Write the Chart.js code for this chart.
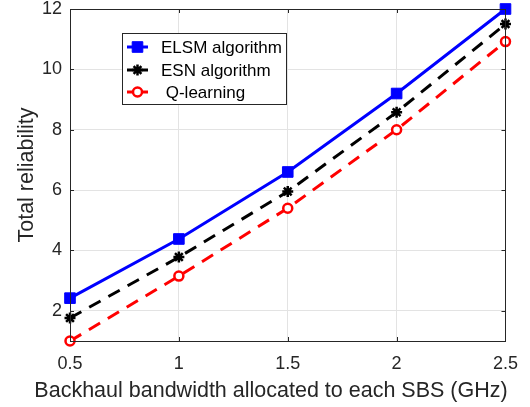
<!DOCTYPE html>
<html>
<head>
<meta charset="utf-8">
<script src="https://cdn.jsdelivr.net/npm/chart.js@4/dist/chart.umd.min.js"></script>
<style>
  body { margin: 0; background: #fff; }
  #wrap { width: 530px; height: 407px; }
</style>
</head>
<body>
<div id="wrap"><canvas id="grafica" width="530" height="407"></canvas></div>
<script>
// datos
const bandwidth = [0.5, 1, 1.5, 2, 2.5];
const elsm = [2.42, 4.38, 6.6, 9.2, 12.0];
const esn = [1.76, 3.78, 5.95, 8.58, 11.5];
const qlearn = [1.0, 3.15, 5.4, 8.0, 10.92];
const xTicks = [0.5, 1, 1.5, 2, 2.5];
const yTicks = [2, 4, 6, 8, 10, 12];
const seriesNames = ['ELSM algorithm', 'ESN algorithm', ' Q-learning'];

const axisColor = '#262626';
const font = 'Liberation Sans, Arial, sans-serif';

function puntos(ys) {
  return bandwidth.map((x, i) => ({ x: x, y: ys[i] }));
}

// caja, ticks hacia dentro y leyenda estilo MATLAB
const estiloMatlab = {
  id: 'estiloMatlab',
  afterDraw(chart) {
    const ctx = chart.ctx;
    const a = chart.chartArea;
    const xs = chart.scales.x, ys = chart.scales.y;
    ctx.save();
    ctx.strokeStyle = axisColor;
    ctx.lineWidth = 1;
    ctx.beginPath();
    xTicks.forEach(v => {
      const px = Math.round(xs.getPixelForValue(v)) + 0.5;
      ctx.moveTo(px, a.bottom); ctx.lineTo(px, a.bottom - 4);
      ctx.moveTo(px, a.top); ctx.lineTo(px, a.top + 4);
    });
    yTicks.forEach(v => {
      const py = Math.round(ys.getPixelForValue(v)) + 0.5;
      ctx.moveTo(a.left, py); ctx.lineTo(a.left + 4, py);
      ctx.moveTo(a.right, py); ctx.lineTo(a.right - 4, py);
    });
    ctx.stroke();
    ctx.strokeRect(Math.round(a.left) + 0.5, Math.round(a.top) + 0.5,
      Math.round(a.right - a.left), Math.round(a.bottom - a.top));

    // leyenda
    const bx = 122.5, by = 33.5, bw = 164, bh = 71;
    ctx.fillStyle = '#fff';
    ctx.fillRect(bx, by, bw, bh);
    ctx.strokeStyle = axisColor;
    ctx.strokeRect(bx, by, bw, bh);
    const filas = [47, 70, 92];
    ctx.font = '17px ' + font;
    ctx.textBaseline = 'middle';
    chart.data.datasets.forEach((ds, i) => {
      const y = filas[i];
      ctx.strokeStyle = ds.borderColor;
      ctx.lineWidth = 3;
      ctx.setLineDash([]);
      ctx.beginPath();
      ctx.moveTo(127, y); ctx.lineTo(148, y);
      ctx.stroke();
      ctx.fillStyle = ds.pointBackgroundColor;
      ctx.lineWidth = ds.pointBorderWidth;
      Chart.helpers.drawPoint(ctx, {
        pointStyle: ds.pointStyle,
        radius: ds.pointRadius,
        borderWidth: ds.pointBorderWidth,
        rotation: 0
      }, 137.5, y);
      ctx.fillStyle = '#000';
      ctx.fillText(seriesNames[i], 161, y + 1);
    });
    ctx.restore();
  }
};

const titulos = {
  id: 'titulos',
  afterDraw(chart) {
    const ctx = chart.ctx;
    ctx.save();
    ctx.fillStyle = axisColor;
    ctx.font = '21.5px ' + font;
    ctx.textAlign = 'center';
    ctx.textBaseline = 'alphabetic';
    ctx.fillText('Backhaul bandwidth allocated to each SBS (GHz)', 271, 397);
    ctx.translate(33, 175);
    ctx.rotate(-Math.PI / 2);
    ctx.fillText('Total reliability', 0, 0);
    ctx.restore();
  }
};

const ctxG = document.getElementById('grafica').getContext('2d');
const grafica = new Chart(ctxG, {
  type: 'line',
  data: {
    datasets: [{
      label: seriesNames[0],
      data: puntos(elsm),
      borderColor: '#0000ff',
      backgroundColor: '#0000ff',
      borderWidth: 3,
      pointStyle: 'rect',
      pointRadius: 7.5,
      pointBorderWidth: 1,
      pointBackgroundColor: '#0000ff',
      fill: false,
      clip: false
    }, {
      label: seriesNames[1],
      data: puntos(esn),
      borderColor: '#000000',
      backgroundColor: '#000000',
      borderWidth: 3,
      borderDash: [13, 9],
      pointStyle: 'star',
      pointRadius: 5.5,
      pointBorderWidth: 2.5,
      pointBackgroundColor: '#000000',
      fill: false,
      clip: false
    }, {
      label: seriesNames[2],
      data: puntos(qlearn),
      borderColor: '#ff0000',
      backgroundColor: '#ffffff',
      borderWidth: 3,
      borderDash: [13, 9],
      pointStyle: 'circle',
      pointRadius: 4.5,
      pointBorderWidth: 2.5,
      pointBackgroundColor: '#ffffff',
      fill: false,
      clip: false
    }]
  },
  options: {
    responsive: false,
    animation: false,
    layout: { padding: { top: 0, right: 21, left: 0, bottom: 0 } },
    plugins: {
      legend: { display: false },
      tooltip: { enabled: false }
    },
    scales: {
      x: {
        type: 'linear',
        min: 0.5,
        max: 2.5,
        afterBuildTicks: s => { s.ticks = xTicks.map(v => ({ value: v })); },
        afterFit: s => { s.height = 66; },
        grid: { color: '#e3e3e3', drawTicks: false },
        border: { display: false },
        ticks: {
          color: axisColor,
          padding: 12,
          maxRotation: 0,
          font: { family: font, size: 18 },
          callback: v => String(v)
        }
      },
      y: {
        type: 'linear',
        min: 1,
        max: 12,
        afterBuildTicks: s => { s.ticks = yTicks.map(v => ({ value: v })); },
        afterFit: s => { s.width = 70; s.paddingTop = 9; },
        grid: { color: '#e3e3e3', drawTicks: false },
        border: { display: false },
        ticks: {
          color: axisColor,
          padding: 8,
          font: { family: font, size: 18 }
        }
      }
    }
  },
  plugins: [estiloMatlab, titulos]
});
</script>
</body>
</html>
